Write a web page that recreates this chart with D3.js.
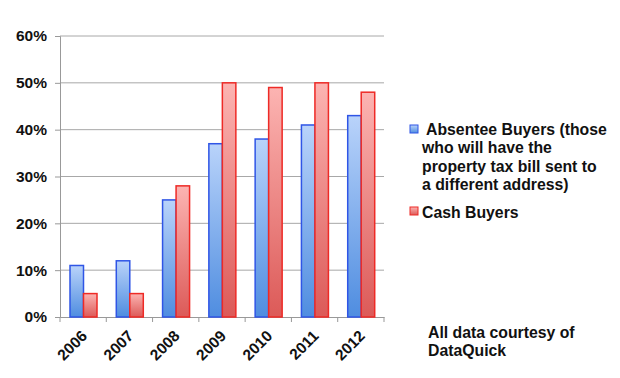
<!DOCTYPE html>
<head>
    <script src='https://cdn.jsdelivr.net/npm/d3@7/dist/d3.min.js'></script>
</head>
<style>
    body { margin: 0; background: #fff; }
    text { font-family: 'Liberation Sans', Arial, sans-serif; font-weight: bold; fill: #111; }
</style>
<body>
    <svg></svg>
</body>

<script>
    var years = ['2006', '2007', '2008', '2009', '2010', '2011', '2012'];
    var absentee = [11, 12, 25, 37, 38, 41, 43];
    var cash = [5, 5, 28, 50, 49, 50, 48];
    var yTicks = [0, 10, 20, 30, 40, 50, 60];
    var legendLines = ['Absentee Buyers (those', 'who will have the', 'property tax bill sent to', 'a different address)'];
    var noteLines = ['All data courtesy of', 'DataQuick'];

    var svg = d3.select('svg').attr('width', 620).attr('height', 378);

    var pLeft = 60, pRight = 384, pTop = 36, pBottom = 317;

    var x = d3.scaleBand().domain(years).range([pLeft, pRight]);
    var x1 = d3.scaleBand().domain(['a', 'c']).range([10, 37]);
    var y = d3.scaleLinear().domain([0, 60]).range([pBottom, pTop]);

    // gradients
    var defs = svg.append('defs');
    function grad(id, c1, c2) {
        var g = defs.append('linearGradient').attr('id', id)
            .attr('x1', 0).attr('y1', 0).attr('x2', 0).attr('y2', 1);
        g.append('stop').attr('offset', '0%').attr('stop-color', c1);
        g.append('stop').attr('offset', '100%').attr('stop-color', c2);
    }
    grad('gBlue', '#b9d3fa', '#4f8de0');
    grad('gRed', '#fcb4b2', '#dc5a58');

    // gridlines
    svg.append('g').selectAll('line')
        .data(yTicks.slice(1))
        .enter().append('line')
        .attr('x1', pLeft).attr('x2', pRight)
        .attr('y1', function (d) { return y(d); })
        .attr('y2', function (d) { return y(d); })
        .attr('stroke', '#a8a8a8').attr('stroke-width', 1);

    // y axis
    var yAxis = svg.append('g')
        .attr('transform', 'translate(' + pLeft + ',0)')
        .call(d3.axisLeft(y).tickValues(yTicks).tickSize(5).tickPadding(8)
            .tickFormat(function (d) { return d + '%'; }));
    yAxis.select('.domain').attr('stroke', '#999');
    yAxis.selectAll('.tick line').attr('stroke', '#999');
    yAxis.selectAll('text').style('font-size', '15.5px').attr('fill', '#111')
        .style('font-family', "'Liberation Sans', Arial, sans-serif").style('font-weight', 'bold');

    // x axis
    var xAxis = svg.append('g')
        .attr('transform', 'translate(0,' + pBottom + ')')
        .call(d3.axisBottom(x).tickSize(0).tickFormat(''));
    xAxis.select('.domain').attr('stroke', '#999');
    xAxis.selectAll('.tick').remove();
    xAxis.selectAll('line.sep')
        .data(years.concat(['end']))
        .enter().append('line')
        .attr('x1', function (d, i) { return pLeft + i * x.bandwidth(); })
        .attr('x2', function (d, i) { return pLeft + i * x.bandwidth(); })
        .attr('y1', 0).attr('y2', 5)
        .attr('stroke', '#999');

    svg.append('g').selectAll('text')
        .data(years)
        .enter().append('text')
        .attr('text-anchor', 'end')
        .style('font-size', '15.5px')
        .attr('transform', function (d) {
            return 'translate(' + (x(d) + x.bandwidth() / 2 + 5) + ',' + (pBottom + 20) + ') rotate(-45)';
        })
        .text(function (d) { return d; });

    // bars
    var groups = svg.append('g').selectAll('g')
        .data(years)
        .enter().append('g')
        .attr('transform', function (d) { return 'translate(' + x(d) + ',0)'; });

    groups.append('rect')
        .attr('x', x1('a'))
        .attr('width', x1.bandwidth())
        .attr('y', function (d, i) { return y(absentee[i]); })
        .attr('height', function (d, i) { return pBottom - y(absentee[i]); })
        .attr('fill', 'url(#gBlue)')
        .attr('stroke', '#2f55e6').attr('stroke-width', 1.5);

    groups.append('rect')
        .attr('x', x1('c'))
        .attr('width', x1.bandwidth())
        .attr('y', function (d, i) { return y(cash[i]); })
        .attr('height', function (d, i) { return pBottom - y(cash[i]); })
        .attr('fill', 'url(#gRed)')
        .attr('stroke', '#ee2a26').attr('stroke-width', 1.5);

    // legend
    var lg = svg.append('g');
    lg.append('rect').attr('x', 410).attr('y', 125).attr('width', 8).attr('height', 8)
        .attr('fill', 'url(#gBlue)').attr('stroke', '#2f55e6');
    lg.selectAll('text.l1')
        .data(legendLines)
        .enter().append('text')
        .attr('x', function (d, i) { return i === 0 ? 426 : 422; })
        .attr('y', function (d, i) { return 135 + i * 18.3; })
        .style('font-size', '15.8px')
        .text(function (d) { return d; });
    lg.append('rect').attr('x', 410).attr('y', 207).attr('width', 8).attr('height', 8)
        .attr('fill', 'url(#gRed)').attr('stroke', '#ee2a26');
    lg.append('text').attr('x', 422).attr('y', 218)
        .style('font-size', '15.8px').text('Cash Buyers');

    // note
    svg.append('g').selectAll('text')
        .data(noteLines)
        .enter().append('text')
        .attr('x', 428)
        .attr('y', function (d, i) { return 338 + i * 18; })
        .style('font-size', '15.8px')
        .text(function (d) { return d; });
</script>
